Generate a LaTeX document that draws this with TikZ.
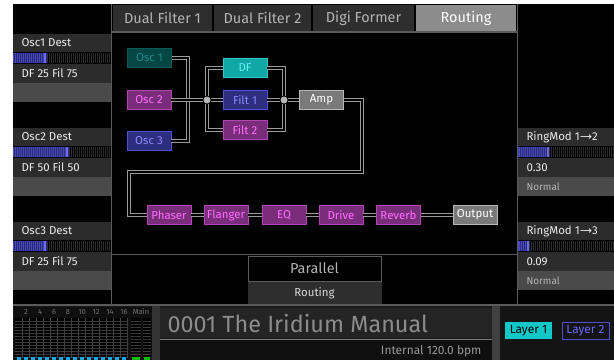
\documentclass[tikz,border=0pt]{standalone}
\usepackage{fontspec}
\setmainfont{Fira Sans}
\newfontfamily\arrowfont{DejaVu Sans}
\newcommand\fsz[1]{\fontsize{#1}{#1}\selectfont}

\definecolor{rowbg}{HTML}{2C2C2C}
\definecolor{rowlight}{HTML}{4A4A4A}
\definecolor{tabbg}{HTML}{2E2E2E}
\definecolor{tabsel}{HTML}{8C8C8C}
\definecolor{edgegray}{HTML}{5A5A5A}
\definecolor{wiregray}{HTML}{9A9A9A}
\definecolor{dotgray}{HTML}{B4B4B4}
\definecolor{fxfill}{HTML}{7A2D7A}
\definecolor{fxline}{HTML}{B245B2}
\definecolor{fxtext}{HTML}{FF6EFF}
\definecolor{bluefill}{HTML}{2E2E80}
\definecolor{blueline}{HTML}{5050C8}
\definecolor{bluetext}{HTML}{8A8AFF}
\definecolor{tealdark}{HTML}{064644}
\definecolor{tealdarkline}{HTML}{0A5A58}
\definecolor{tealdarktext}{HTML}{1A8C88}
\definecolor{tealfill}{HTML}{12A6A6}
\definecolor{tealline}{HTML}{30C8C8}
\definecolor{tealtext}{HTML}{60F0F0}
\definecolor{grayfill}{HTML}{7A7A7A}
\definecolor{grayline}{HTML}{B8B8B8}
\definecolor{barfill}{HTML}{4848B8}
\definecolor{barstripe}{HTML}{2A2A78}
\definecolor{barmark}{HTML}{6A6AFF}
\definecolor{barbg}{HTML}{2C2C2C}
\definecolor{layercyan}{HTML}{10C8C8}

\tikzset{
  wire/.style={draw=wiregray, line width=1bp, double=black, double distance=2bp},
  box/.style={draw, line width=0.9bp, minimum width=44bp, minimum height=19bp, inner sep=0pt, font=\fsz{11.5}},
  fxbox/.style={box, fill=fxfill, draw=fxline, text=fxtext},
  bluebox/.style={box, fill=bluefill, draw=blueline, text=bluetext},
  grbox/.style={box, fill=grayfill, draw=grayline, text=white},
  dot/.style={circle, fill=dotgray, minimum size=7bp, inner sep=0pt},
  tab/.style={fill=tabbg, text=dotgray, minimum height=26bp, inner sep=0pt, font=\fsz{14.5}},
  rowtext/.style={anchor=west, text=white!92!black, font=\fsz{11.5}},
  dimtext/.style={anchor=west, text=dotgray, font=\fsz{10}},
  stripe/.style={black, line width=0.8bp},
}

\begin{document}
\begin{tikzpicture}[x=1bp,y=-1bp]
\useasboundingbox (0,0) rectangle (614,360);
\fill[white] (0,0) rectangle (614,360);
\fill[black] (13,4) rectangle (614,360);

% tabs
\node[tab, minimum width=99bp] (tabdf1) at (162.5,18) {Dual Filter 1};
\node[tab, minimum width=97bp] (tabdf2) at (262.5,18) {Dual Filter 2};
\node[tab, minimum width=101bp] (tabdigi) at (363.5,18) {Digi Former};
\node[tab, minimum width=100bp, fill=tabsel, text=white] (tabrout) at (466,18) {Routing};
\draw[edgegray, line width=2bp] (111,32) -- (517,32);
\draw[edgegray, line width=1bp] (111.5,4) -- (111.5,305);
\draw[edgegray, line width=1bp] (517.5,4) -- (517.5,305);
\draw[edgegray, line width=1bp] (111,254.5) -- (517,254.5);

% left panel
\foreach \o/\dest/\val/\lvl in {0/Osc1 Dest/DF 25 Fil 75/46, 94/Osc2 Dest/DF 50 Fil 50/68, 188/Osc3 Dest/DF 25 Fil 75/46}{
  \fill[rowbg] (13,34+\o) rectangle (111,52+\o);
  \fill[rowbg] (13,64+\o) rectangle (111,83+\o);
  \fill[rowlight] (13,83+\o) rectangle (111,102+\o);
  \fill[barbg] (13,53+\o) rectangle (111,63+\o);
  \foreach \s in {14,16,...,110} \draw[stripe] (\s+0.5,53+\o) -- (\s+0.5,63+\o);
  \fill[barfill] (13,53+\o) rectangle (\lvl,63+\o);
  \foreach \s in {14,16,...,\lvl} \draw[barstripe, line width=0.6bp] (\s+0.5,53+\o) -- (\s+0.5,63+\o);
  \fill[barmark] (\lvl-2,53+\o) rectangle (\lvl,63+\o);
  \node[rowtext] (dest\o) at (18,43+\o) {\dest};
  \node[rowtext] (val\o) at (18,73.5+\o) {\val};
}

% right panel
\foreach \o/\src/\val/\lvl in {94/2/0.30/549, 188/3/0.09/529}{
  \fill[rowbg] (518,34+\o) rectangle (614,52+\o);
  \fill[rowbg] (518,64+\o) rectangle (614,83+\o);
  \fill[rowlight] (518,83+\o) rectangle (614,102+\o);
  \fill[barbg] (518,53+\o) rectangle (614,63+\o);
  \foreach \s in {520,522,...,612} \draw[stripe] (\s+0.5,53+\o) -- (\s+0.5,63+\o);
  \fill[barfill] (518,53+\o) rectangle (\lvl,63+\o);
  \foreach \s in {520,522,...,\lvl} \draw[barstripe, line width=0.6bp] (\s+0.5,53+\o) -- (\s+0.5,63+\o);
  \fill[barmark] (\lvl-2,53+\o) rectangle (\lvl,63+\o);
  \node[rowtext] (ring\o) at (523,43+\o) {RingMod 1-{\arrowfont\fsz{11}\kern-1.5pt→}\src};
  \node[rowtext] (amt\o) at (523,73.5+\o) {\val};
  \node[dimtext] (mode\o) at (523,92.5+\o) {Normal};
}

% routing diagram
\node[box, fill=tealdark, draw=tealdarkline, text=tealdarktext] (osc1) at (149.5,58) {Osc 1};
\node[fxbox] (osc2) at (149,100) {Osc 2};
\node[bluebox] (osc3) at (149,141) {Osc 3};
\node[box, fill=tealfill, draw=tealline, text=tealtext] (df) at (245,68) {DF};
\node[bluebox] (filt1) at (245,100) {Filt 1};
\node[fxbox] (filt2) at (245,130) {Filt 2};
\node[grbox] (amp) at (321.5,100) {Amp};
\node[dot] (j1) at (207,100) {};
\node[dot] (j2) at (284,100) {};
\coordinate (oscbus) at (188,100);
\coordinate (busR) at (362,172);
\coordinate (busL) at (129,172);

\node[fxbox] (phaser) at (169,215) {Phaser};
\node[fxbox] (flanger) at (226,215) {Flanger};
\node[fxbox] (eq) at (284,215) {EQ};
\node[fxbox] (drive) at (341,215) {Drive};
\node[fxbox] (reverb) at (398.5,215) {Reverb};
\node[grbox] (output) at (475,215) {Output};

\draw[wire] (osc1.east) -| (oscbus) |- (osc3.east);
\draw[wire] (osc2.east) -- (j1);
\draw[wire] (j1) |- (df.west);
\draw[wire] (j1) |- (filt2.west);
\draw[wire] (j1) -- (filt1.west);
\draw[wire] (df.east) -| (j2);
\draw[wire] (filt2.east) -| (j2);
\draw[wire] (filt1.east) -- (j2);
\draw[wire] (j2) -- (amp.west);
\draw[wire] (amp.east) -| (busR) -- (busL) |- (phaser.west);
\draw[wire] (phaser) -- (flanger);
\draw[wire] (flanger) -- (eq);
\draw[wire] (eq) -- (drive);
\draw[wire] (drive) -- (reverb);
\draw[wire] (reverb) -- (output);

% mode selector
\node[draw=edgegray, line width=1bp, fill=black, minimum width=133bp, minimum height=25bp, inner sep=0pt,
  text=dotgray, font=\fsz{14.5}] (parallel) at (314.5,268.5) {Parallel};
\node[fill=tabbg, minimum width=134bp, minimum height=23bp, inner sep=0pt,
  text=white!85!black, font=\fsz{11.5}, anchor=north] (routing) at (parallel.south) {Routing};

% bottom bar
\fill[black!90] (13,305) rectangle (614,360);
\draw[edgegray, line width=2bp] (13,305) -- (614,305);
\fill[black!94] (14,307) rectangle (152,360);
\foreach \x/\l in {26/2,40/4,54/6,68/8,82/10,96/12,110/14,124/16,141/Main}
  \node[text=black!55, font=\fsz{7.5}] (lvl\l) at (\x,311.5) {\l};
\fill[black] (15,318) rectangle (128,358);
\fill[black] (131,318) rectangle (141,358);
\fill[black] (143,318) rectangle (151,358);
\foreach \y in {321,324,...,357} {
  \draw[black!78, line width=1bp] (15,\y+0.5) -- (128,\y+0.5);
  \draw[black!78, line width=1bp] (131,\y+0.5) -- (141,\y+0.5);
  \draw[black!78, line width=1bp] (143,\y+0.5) -- (151,\y+0.5);
}
\foreach \x in {22,29,...,127} \draw[black!75, line width=1bp] (\x+0.5,318) -- (\x+0.5,358);
\foreach \x in {16,23,...,122} \fill[cyan!80!teal] (\x+1,357) rectangle (\x+5,360);
\fill[green!75!black] (132,357) rectangle (140,360);
\fill[green!75!black] (144,357) rectangle (150,360);
\fill[black!80] (152,306) rectangle (160,360);

\fill[black!86] (160,308) rectangle (492,338);
\draw[black!52, line width=1bp] (160,339.5) -- (492,339.5);
\fill[black!94] (160,340) rectangle (492,360);
\node[anchor=west, text=black!45, font=\fsz{23.5}] (title) at (164,323) {0001 The Iridium Manual};
\node[anchor=east, text=black!40, font=\fsz{12}] (tempo) at (485,351) {Internal 120.0 bpm};

\fill[black!75] (492,306) rectangle (500,360);
\fill[black!92] (500,306) rectangle (614,360);
\node[fill=layercyan, text=black, minimum width=47bp, minimum height=17bp, inner sep=0pt, font=\fsz{12}] (layer1) at (528.5,330.5) {Layer 1};
\node[draw=blueline, line width=1bp, text=barmark, minimum width=47bp, minimum height=17bp, inner sep=0pt, font=\fsz{12}] (layer2) at (585.5,330.5) {Layer 2};
\end{tikzpicture}
\end{document}
